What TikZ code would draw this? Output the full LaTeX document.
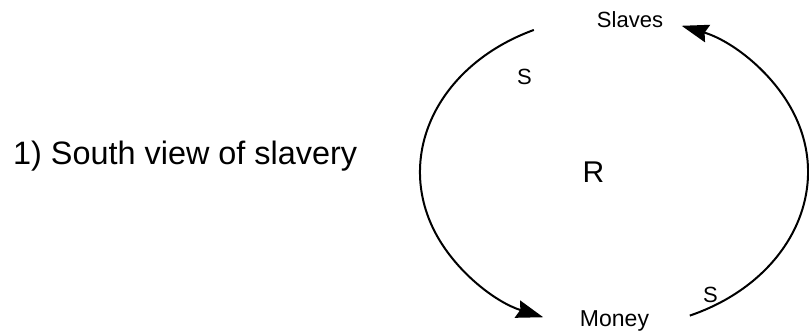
\documentclass[tikz,border=0pt]{standalone}
\usepackage{fontspec}
\setmainfont{Liberation Sans}
\usetikzlibrary{arrows.meta,calc}
\begin{document}
\begin{tikzpicture}[x=1pt,y=1pt,
  lbl/.style={inner sep=0pt,anchor=base,font=\fontsize{22}{22}\selectfont},
  loop/.style={line width=2pt,-{Stealth[length=27pt,width=18pt,inset=3pt]}}]
\useasboundingbox (0,0) rectangle (809,335);
\node[inner sep=0pt,anchor=base west,font=\fontsize{32.4}{32}\selectfont] (title) at (13,170) {1) South view of slavery};
\node[lbl] (slaves) at (630,307) {Slaves};
\node[lbl,font=\fontsize{23}{23}\selectfont] (money) at (614.5,9) {Money};
\node[lbl,font=\fontsize{30}{30}\selectfont] (r) at (593.5,152) {R};
\node[lbl] (s1) at (524.5,250) {S};
\node[lbl] (s2) at (710.5,33) {S};
\coordinate (c) at (614,163);
\coordinate (ls) at ($(c)+(114.4:194pt and 156pt)$);
\coordinate (rs) at ($(c)+(-67:194pt and 156pt)$);
\draw[loop] (ls) arc[start angle=114.4,end angle=248.6,x radius=194pt,y radius=156pt];
\draw[loop] (rs) arc[start angle=-67,end angle=69.6,x radius=194pt,y radius=156pt];
\end{tikzpicture}
\end{document}
